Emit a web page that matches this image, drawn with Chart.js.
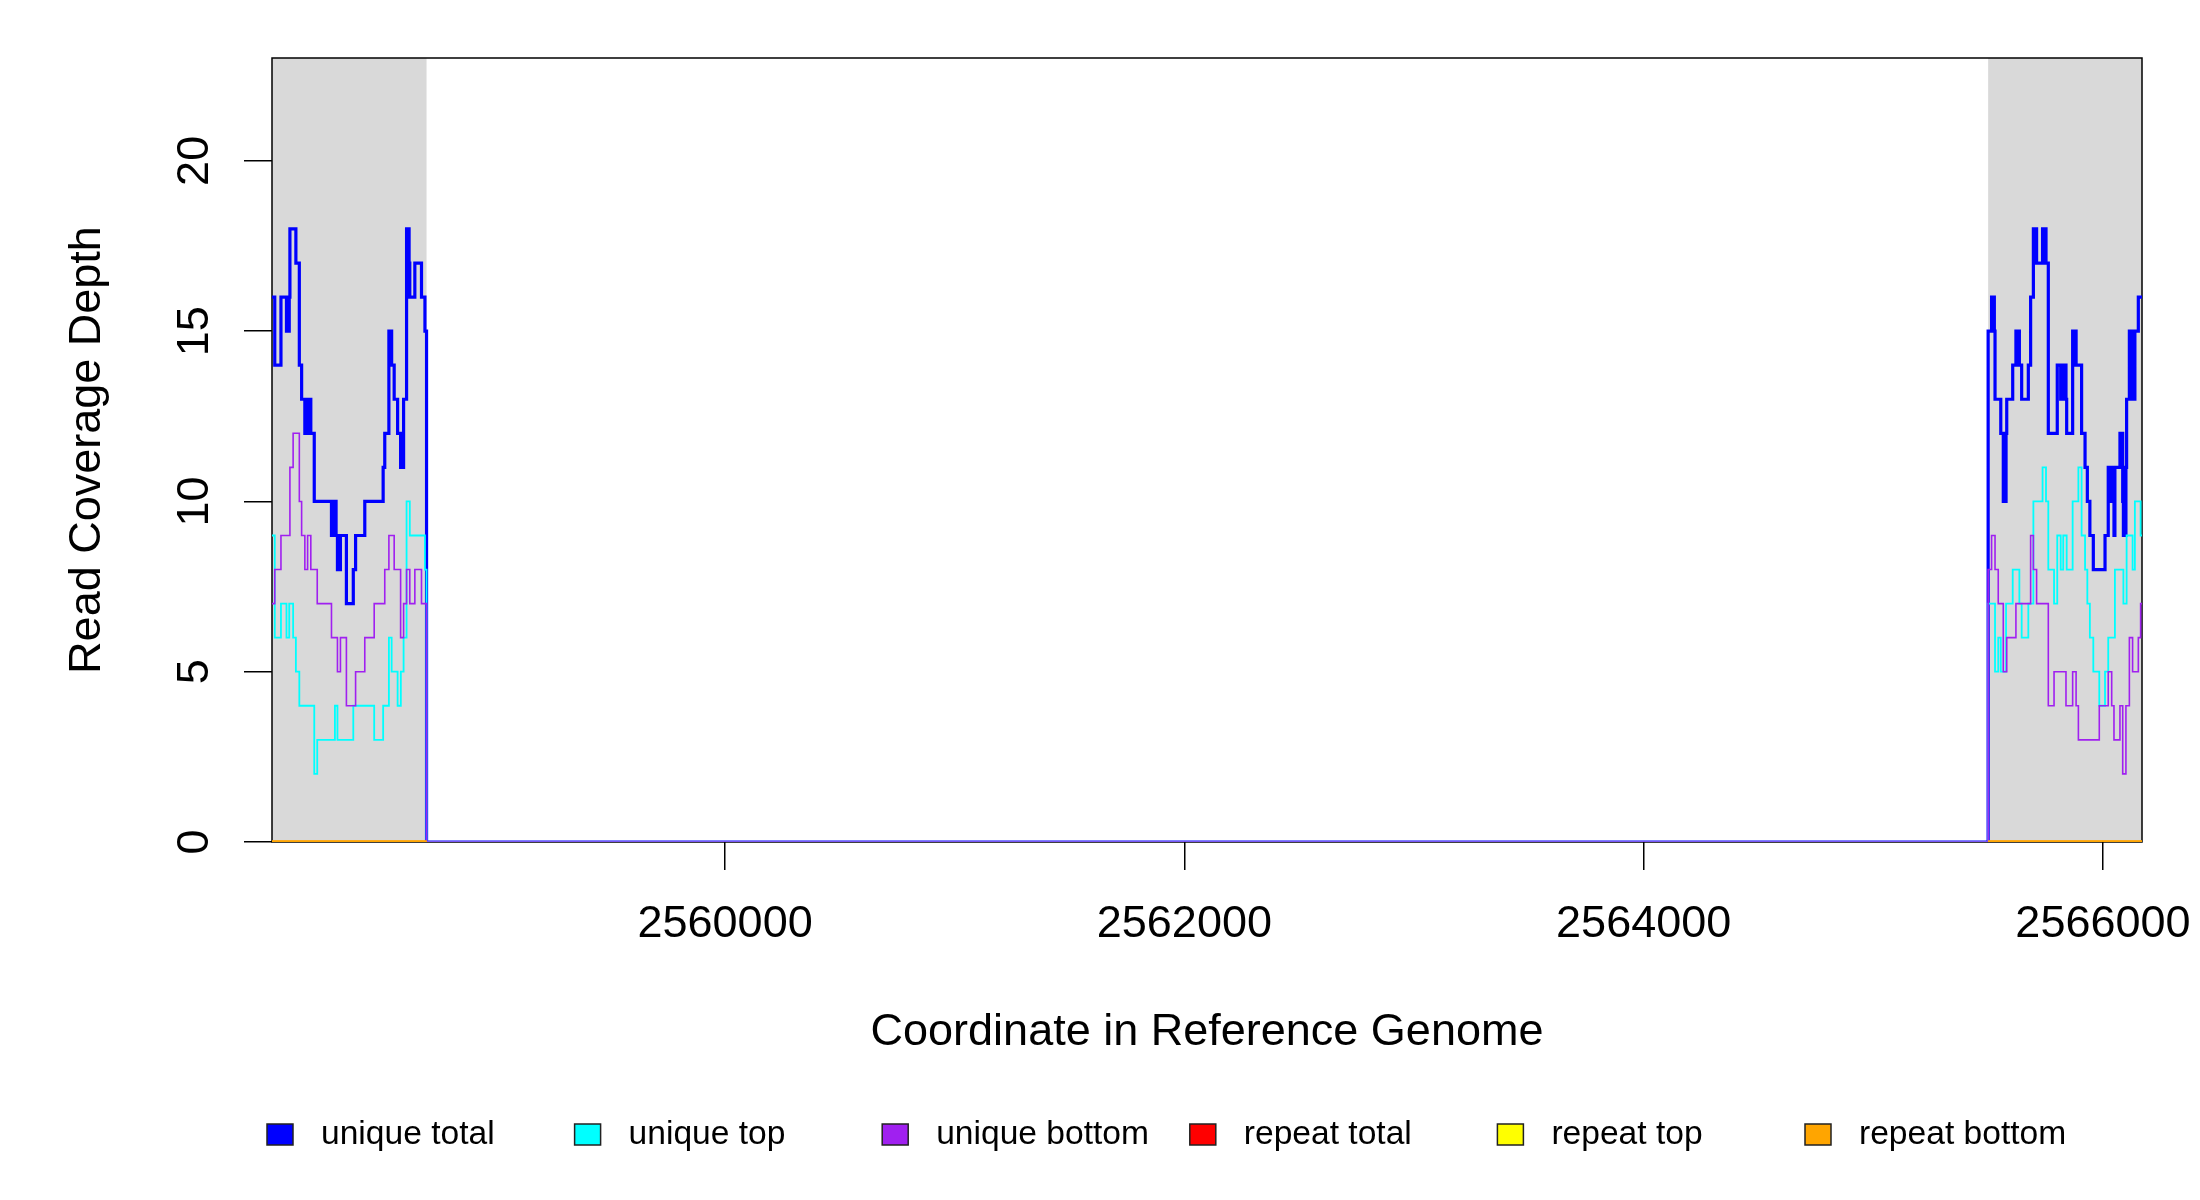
<!DOCTYPE html>
<html>
<head>
<meta charset="utf-8">
<title>Read coverage</title>
<script src="https://cdn.jsdelivr.net/npm/chart.js@4/dist/chart.umd.min.js"></script>
<style>
  html, body { margin: 0; padding: 0; background: #fff; }
  canvas { display: block; }
</style>
</head>
<body>
<canvas id="coverage" width="2200" height="1200"></canvas>
<script>
// axis ranges and ticks
const xRange = [2558027, 2566170];
const yRange = [0, 23.02];
const xTicks = [2560000, 2562000, 2564000, 2566000];
const yTicks = [0, 5, 10, 15, 20];
// shaded flanks around the gap
const flanks = [[2558027, 2558700], [2565500, 2566170]];

// [position, depth] : depth holds from this position on
const uniqueTotal = [
  [2558027,16],[2558039,14],[2558066,16],[2558090,15],[2558094,16],[2558097,15],[2558102,16],
  [2558105,18],[2558131,17],[2558146,14],[2558156,13],[2558170,12],[2558176,13],[2558180,12],
  [2558182,13],[2558196,12],[2558211,10],[2558286,9],[2558292,10],[2558296,9],[2558301,10],
  [2558306,9],[2558312,8],[2558316,9],[2558320,8],[2558325,9],[2558351,7],[2558381,8],
  [2558391,9],[2558431,10],[2558511,11],[2558518,12],[2558536,15],[2558541,14],[2558544,15],
  [2558548,14],[2558559,13],[2558574,12],[2558587,11],[2558592,12],[2558595,11],[2558600,13],
  [2558613,18],[2558618,16],[2558621,18],[2558624,17],[2558627,16],[2558649,17],[2558678,16],
  [2558693,15],[2558700,0],
  [2565500,15],[2565515,16],[2565520,15],[2565524,16],[2565527,15],[2565530,13],[2565555,12],
  [2565566,10],[2565570,11],[2565573,10],[2565578,12],[2565581,13],[2565607,14],[2565621,15],
  [2565625,14],[2565629,15],[2565636,14],[2565646,13],[2565675,14],[2565685,16],[2565697,18],
  [2565701,17],[2565705,18],[2565711,17],[2565737,18],[2565742,17],[2565746,18],[2565752,17],
  [2565762,12],[2565801,14],[2565816,13],[2565827,14],[2565831,13],[2565835,14],[2565839,13],
  [2565842,12],[2565868,15],[2565872,14],[2565877,15],[2565883,14],[2565907,12],[2565922,11],
  [2565932,10],[2565943,9],[2565958,8],[2566009,9],[2566023,11],[2566029,10],[2566033,11],
  [2566038,10],[2566048,9],[2566052,11],[2566074,12],[2566086,10],[2566089,9],[2566100,11],
  [2566103,13],[2566115,15],[2566120,13],[2566124,15],[2566129,13],[2566139,15],[2566154,16],
  [2566170,16]
];

const uniqueTop = [
  [2558027,9],[2558039,6],[2558066,7],[2558090,6],[2558102,7],[2558119,6],[2558131,5],
  [2558146,4],[2558211,2],[2558224,3],[2558301,4],[2558312,3],[2558381,4],[2558472,3],
  [2558511,4],[2558536,6],[2558548,5],[2558574,4],[2558588,5],[2558600,6],[2558613,10],
  [2558627,9],[2558693,8],[2558700,0],
  [2565500,7],[2565530,5],[2565544,6],[2565555,5],[2565578,7],[2565607,8],[2565636,7],
  [2565646,6],[2565675,7],[2565697,10],[2565737,11],[2565752,10],[2565762,8],[2565787,7],
  [2565801,9],[2565816,8],[2565827,9],[2565842,8],[2565868,10],[2565893,11],[2565907,9],
  [2565922,8],[2565932,7],[2565943,6],[2565958,5],[2565984,4],[2566009,5],[2566023,6],
  [2566052,8],[2566089,7],[2566103,9],[2566129,8],[2566139,10],[2566164,9],[2566170,9]
];

const uniqueBottom = [
  [2558027,7],[2558039,8],[2558066,9],[2558105,11],[2558119,12],[2558146,10],[2558156,9],
  [2558170,8],[2558182,9],[2558196,8],[2558224,7],[2558286,6],[2558312,5],[2558325,6],
  [2558351,4],[2558391,5],[2558431,6],[2558472,7],[2558518,8],[2558536,9],[2558559,8],
  [2558587,6],[2558600,7],[2558613,8],[2558627,7],[2558649,8],[2558678,7],[2558700,0],
  [2565500,8],[2565515,9],[2565530,8],[2565544,7],[2565566,5],[2565581,6],[2565621,7],
  [2565685,9],[2565697,8],[2565711,7],[2565762,4],[2565787,5],[2565839,4],[2565868,5],
  [2565883,4],[2565893,3],[2565984,4],[2566023,5],[2566038,4],[2566048,3],[2566074,4],
  [2566086,2],[2566100,4],[2566115,6],[2566129,5],[2566154,6],[2566164,7],[2566170,7]
];

// repeat reads only reported inside the flanks (null = no data in the gap)
const repeatTotal  = [[2558027,0],[2558700,0],[2562000,null],[2565500,0],[2566170,0]];
const repeatTop    = [[2558027,0],[2558700,0],[2562000,null],[2565500,0],[2566170,0]];
const repeatBottom = [[2558027,0],[2558700,0],[2562000,null],[2565500,0],[2566170,0]];

const seriesNames  = ["unique total", "unique top", "unique bottom", "repeat total", "repeat top", "repeat bottom"];
const seriesColors = ["#0000ff", "#00ffff", "#a020f0", "#ff0000", "#ffff00", "#ffa500"];
const seriesWidths = [3.2, 1.8, 1.6, 2.4, 2.4, 3.6];
const seriesData   = [uniqueTotal, uniqueTop, uniqueBottom, repeatTotal, repeatTop, repeatBottom];

const FONT = "'Liberation Sans', Arial, Helvetica, sans-serif";

const flankShade = {
  id: "flankShade",
  beforeDatasetsDraw(chart) {
    const {ctx, chartArea: a, scales: {x}} = chart;
    ctx.save();
    ctx.fillStyle = "#d9d9d9";
    flanks.forEach(([from, to]) => {
      const x0 = x.getPixelForValue(from);
      const x1 = x.getPixelForValue(to);
      ctx.fillRect(x0, a.top, x1 - x0, a.bottom - a.top);
    });
    ctx.strokeStyle = "#000";
    ctx.lineWidth = 1.5;
    ctx.strokeRect(a.left, a.top, a.right - a.left, a.bottom - a.top);
    ctx.restore();
  }
};

// R style horizontal legend with equal spacing
const boxLegend = {
  id: "boxLegend",
  afterDraw(chart) {
    const ctx = chart.ctx;
    ctx.save();
    ctx.font = "33.6px " + FONT;
    ctx.textBaseline = "middle";
    ctx.textAlign = "left";
    chart.data.datasets.forEach((ds, i) => {
      const left = 267 + i * 307.6;
      ctx.fillStyle = ds.borderColor;
      ctx.fillRect(left, 1124, 26, 21);
      ctx.strokeStyle = "#222";
      ctx.lineWidth = 1.5;
      ctx.strokeRect(left, 1124, 26, 21);
      ctx.fillStyle = "#000";
      ctx.fillText(ds.label, left + 54, 1135);
    });
    ctx.restore();
  }
};

new Chart(document.querySelector("#coverage").getContext("2d"), {
  type: "line",
  data: {
    datasets: seriesData.map((points, i) => ({
      label: seriesNames[i],
      data: points.map(p => ({x: p[0], y: p[1]})),
      borderColor: seriesColors[i],
      backgroundColor: seriesColors[i],
      borderWidth: seriesWidths[i],
      stepped: true,
      pointRadius: 0,
      fill: false,
      clip: 0,
      order: seriesData.length - i
    }))
  },
  options: {
    responsive: false,
    animation: false,
    devicePixelRatio: 1,
    layout: {padding: {left: 0, right: 58, top: 58, bottom: 0}},
    plugins: {legend: {display: false}, tooltip: {enabled: false}},
    scales: {
      x: {
        type: "linear",
        min: xRange[0],
        max: xRange[1],
        afterBuildTicks: s => { s.ticks = xTicks.map(v => ({value: v})); },
        afterFit: s => { s.height = 358; s.paddingLeft = 0; s.paddingRight = 0; },
        grid: {drawOnChartArea: false, drawTicks: true, tickLength: 28, color: "#000", lineWidth: 1.5},
        border: {display: false},
        ticks: {
          color: "#000", font: {family: FONT, size: 45}, padding: 28,
          maxRotation: 0, autoSkip: false, callback: v => String(v)
        },
        title: {
          display: true, text: "Coordinate in Reference Genome", color: "#000",
          font: {family: FONT, size: 45}, padding: {top: 0, bottom: 140}
        }
      },
      y: {
        type: "linear",
        min: yRange[0],
        max: yRange[1],
        afterBuildTicks: s => { s.ticks = yTicks.map(v => ({value: v})); },
        afterFit: s => { s.width = 272; s.paddingTop = 0; s.paddingBottom = 0; },
        grid: {drawOnChartArea: false, drawTicks: true, tickLength: 28, color: "#000", lineWidth: 1.5},
        border: {display: false},
        ticks: {
          color: "#000", font: {family: FONT, size: 45}, padding: 23,
          minRotation: 90, maxRotation: 90, crossAlign: "center", autoSkip: false
        },
        title: {
          display: true, text: "Read Coverage Depth", color: "#000",
          font: {family: FONT, size: 45}, padding: {top: 61, bottom: 0}
        }
      }
    }
  },
  plugins: [flankShade, boxLegend]
});
</script>
</body>
</html>
